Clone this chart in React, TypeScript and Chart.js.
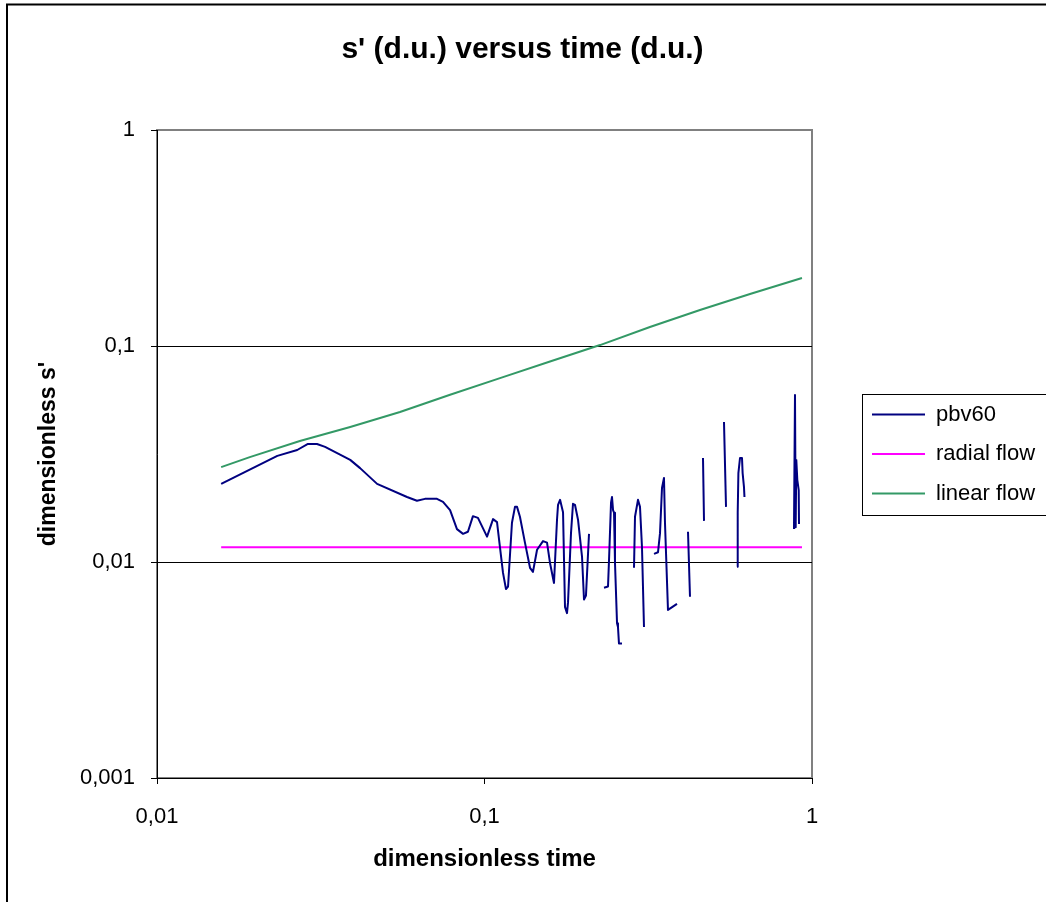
import React, { useEffect, useRef } from 'react';
import { Chart, registerables } from 'chart.js';

Chart.register(...registerables);

// ---------- data ----------
const seriesNames = ['pbv60', 'radial flow', 'linear flow'];
const xTickValues = [0.01, 0.1, 1];
const yTickValues = [0.001, 0.01, 0.1, 1];

// pbv60 (null = gap in the measured curve)
const pbv60Time = [
  0.0157, 0.0233, 0.0268, 0.0289, 0.0308, 0.0326, 0.0389, 0.0417, 0.0470, 0.0580,
  0.0622, 0.0658, 0.0716, 0.0747, 0.0785, 0.0824, 0.0860, 0.0890, 0.0922, 0.0955,
  0.1018, 0.1062, 0.1092, 0.1115, 0.1139, 0.1163, 0.1180, 0.1213, 0.1239, 0.1257,
  0.1283, 0.1329, 0.1377, 0.1406, 0.1447, 0.1509, 0.1552, 0.1585, 0.1630, 0.1665,
  0.1677, 0.1701, 0.1737, 0.1761, 0.1786, 0.1799, 0.1837, 0.1863, 0.1889, 0.1930,
  0.1985, 0.2013, 0.2041, 0.2085,
  0.220,
  0.2317, 0.2383, 0.2400, 0.2434, 0.2451, 0.2469, 0.2486, 0.2503, 0.2539, 0.2556, 0.2574, 0.2629,
  0.275,
  0.2861, 0.2881, 0.2942, 0.2984, 0.3026, 0.3069,
  0.318,
  0.3293, 0.3387, 0.3435, 0.3483, 0.3532, 0.3557, 0.3633, 0.3870,
  0.400,
  0.4182, 0.4241,
  0.445,
  0.4647, 0.4680,
  0.500,
  0.5386, 0.5463,
  0.570,
  0.5902, 0.5920, 0.5943, 0.5960, 0.6028, 0.6113, 0.6140, 0.6199, 0.6220,
  0.750,
  0.8810, 0.8873, 0.8916, 0.8955, 0.9018, 0.9108, 0.9127,
];
const pbv60S: (number | null)[] = [
  0.0230, 0.0310, 0.0330, 0.0352, 0.0352, 0.0341, 0.0297, 0.0272, 0.0230, 0.0200,
  0.0192, 0.0196, 0.0196, 0.0190, 0.0174, 0.0142, 0.0135, 0.0138, 0.0163, 0.0160,
  0.0131, 0.0158, 0.0153, 0.0117, 0.0089, 0.0075, 0.0077, 0.0152, 0.0180, 0.0180,
  0.0162, 0.0123, 0.0094, 0.0090, 0.0114, 0.0125, 0.0123, 0.0099, 0.0080, 0.0157,
  0.0184, 0.0194, 0.0170, 0.0062, 0.0058, 0.0065, 0.0136, 0.0186, 0.0184, 0.0157,
  0.0106, 0.0067, 0.0070, 0.0135,
  null,
  0.0076, 0.0077, 0.0102, 0.0188, 0.0200, 0.0174, 0.0169, 0.0099, 0.0052, 0.0050, 0.0042, 0.0042,
  null,
  0.0094, 0.0162, 0.0194, 0.0180, 0.0117, 0.0050,
  null,
  0.0109, 0.0111, 0.0136, 0.0220, 0.0245, 0.0152, 0.0060, 0.0064,
  null,
  0.0138, 0.0069,
  null,
  0.0303, 0.0155,
  null,
  0.0445, 0.0180,
  null,
  0.0095, 0.0141, 0.0169, 0.0258, 0.0303, 0.0303, 0.0258, 0.0222, 0.0200,
  null,
  0.0142, 0.0593, 0.0145, 0.0297, 0.0240, 0.0215, 0.0150,
];

const radialTime = [0.0157, 0.932];
const radialS = [0.0117, 0.0117];

const linearTime = [0.0157, 0.0192, 0.0273, 0.0389, 0.0552, 0.0785, 0.1115, 0.1585, 0.2253, 0.320, 0.455, 0.6467, 0.932];
const linearS = [0.0275, 0.0306, 0.0363, 0.0422, 0.0495, 0.0595, 0.0710, 0.0848, 0.101, 0.1225, 0.1468, 0.174, 0.2065];

// ---------- style / layout constants ----------
const FONT = "'Liberation Sans', Arial, Helvetica, sans-serif";
const W = 1046;
const H = 902;
const PLOT_LEFT = 157;
const PLOT_RIGHT = 812;
const PLOT_BOTTOM = 778;
const LEGEND_SIZE = 22;
const LEGEND_PAD = 17.5;
const LEGEND_LINE = 53;
const LEGEND_ITEM_X = 872;

const fmt = (v: number) => String(v).replace('.', ',');
const pts = (xs: number[], ys: (number | null)[]) => xs.map((x, i) => ({ x, y: ys[i] }));

export default function App() {
  const ref = useRef<HTMLCanvasElement>(null);

  useEffect(() => {
    const canvas = ref.current;
    if (!canvas) return;

    const mctx = document.createElement('canvas').getContext('2d')!;
    mctx.font = `${LEGEND_SIZE}px ${FONT}`;
    const maxText = Math.max(...seriesNames.map((n) => mctx.measureText(n).width));
    const legendW = LEGEND_PAD + LEGEND_LINE + LEGEND_SIZE / 2 + maxText + 10;
    const dummyW = LEGEND_ITEM_X - PLOT_RIGHT - LEGEND_PAD;
    const padRight = Math.max(0, W - PLOT_RIGHT - dummyW - legendW);

    const framePlugin = {
      id: 'frames',
      beforeDraw(chart: any) {
        const { ctx, chartArea: a } = chart;
        ctx.save();
        ctx.fillStyle = '#ffffff';
        ctx.fillRect(0, 0, chart.width, chart.height);
        ctx.strokeStyle = '#000000';
        ctx.lineWidth = 2;
        ctx.strokeRect(7, 4.5, chart.width + 20, chart.height + 20);
        ctx.strokeStyle = '#808080';
        ctx.lineWidth = 2;
        ctx.strokeRect(a.left, a.top, a.right - a.left, a.bottom - a.top);
        const lg = chart.legend;
        if (lg && lg.legendHitBoxes && lg.legendHitBoxes.length) {
          const hb = lg.legendHitBoxes;
          const first = hb[0];
          const last = hb[hb.length - 1];
          const x0 = Math.round(first.left - 10) + 0.5;
          const y0 = Math.round(first.top - 10) + 0.5;
          const y1 = Math.round(last.top + last.height + 10) + 0.5;
          ctx.strokeStyle = '#000000';
          ctx.lineWidth = 1;
          ctx.strokeRect(x0, y0, chart.width, y1 - y0);
        }
        ctx.restore();
      },
    };

    const chart = new Chart(canvas, {
      type: 'line',
      data: {
        datasets: [
          {
            label: seriesNames[0],
            data: pts(pbv60Time, pbv60S),
            borderColor: '#000080',
            backgroundColor: '#000080',
            borderWidth: 2,
            pointRadius: 0,
            tension: 0,
            spanGaps: false,
          },
          {
            label: seriesNames[1],
            data: pts(radialTime, radialS),
            borderColor: '#ff00ff',
            backgroundColor: '#ff00ff',
            borderWidth: 2,
            pointRadius: 0,
          },
          {
            label: seriesNames[2],
            data: pts(linearTime, linearS),
            borderColor: '#339966',
            backgroundColor: '#339966',
            borderWidth: 2,
            pointRadius: 0,
          },
        ],
      },
      options: {
        responsive: false,
        animation: false,
        devicePixelRatio: 1,
        layout: { padding: { left: 0, top: 0, bottom: 0, right: padRight } },
        elements: { line: { borderJoinStyle: 'round', borderCapStyle: 'butt' } },
        plugins: {
          title: {
            display: true,
            text: "s' (d.u.) versus time (d.u.)",
            color: '#000000',
            font: { family: FONT, size: 30, weight: 'bold', lineHeight: 1.2 },
            padding: { top: 32, bottom: 62 },
          },
          legend: {
            position: 'right',
            fullSize: false,
            align: 'center',
            labels: {
              usePointStyle: true,
              pointStyle: 'line',
              pointStyleWidth: LEGEND_LINE,
              padding: LEGEND_PAD,
              color: '#000000',
              font: { family: FONT, size: LEGEND_SIZE, lineHeight: 1.2 },
            },
          },
          tooltip: { enabled: false },
        },
        scales: {
          x: {
            type: 'logarithmic',
            position: 'bottom',
            min: 0.01,
            max: 1,
            afterBuildTicks: (s: any) => {
              s.ticks = xTickValues.map((v) => ({ value: v }));
            },
            afterFit: (s: any) => {
              s.height = H - PLOT_BOTTOM;
            },
            ticks: {
              callback: (v: any) => fmt(Number(v)),
              autoSkip: false,
              maxRotation: 0,
              padding: 20,
              color: '#000000',
              font: { family: FONT, size: 22 },
            },
            grid: {
              display: true,
              drawOnChartArea: false,
              drawTicks: true,
              tickLength: 6,
              tickColor: '#000000',
              tickWidth: 1,
            },
            border: { display: true, color: '#000000', width: 1 },
            title: {
              display: true,
              text: 'dimensionless time',
              color: '#000000',
              font: { family: FONT, size: 24, weight: 'bold', lineHeight: 1.2 },
              padding: { top: 0, bottom: 28.6 },
            },
          },
          y: {
            type: 'logarithmic',
            position: 'left',
            min: 0.001,
            max: 1,
            afterBuildTicks: (s: any) => {
              s.ticks = yTickValues.map((v) => ({ value: v }));
            },
            afterFit: (s: any) => {
              s.width = PLOT_LEFT;
            },
            ticks: {
              callback: (v: any) => fmt(Number(v)),
              autoSkip: false,
              padding: 16,
              color: '#000000',
              font: { family: FONT, size: 22 },
            },
            grid: {
              display: true,
              drawTicks: true,
              tickLength: 6,
              tickColor: '#000000',
              tickWidth: 1,
              lineWidth: 1,
              color: (c: any) =>
                c.tick && (c.tick.value === 0.1 || c.tick.value === 0.01) ? '#000000' : 'rgba(0,0,0,0)',
            },
            border: { display: true, color: '#000000', width: 1 },
            title: {
              display: true,
              text: "dimensionless s'",
              color: '#000000',
              font: { family: FONT, size: 23, weight: 'bold', lineHeight: 1.2 },
              padding: { top: 34.5, bottom: 0 },
            },
          },
          pad: {
            type: 'linear',
            position: 'right',
            display: false,
            afterFit: (s: any) => {
              s.width = dummyW;
            },
          },
        },
      } as any,
      plugins: [framePlugin],
    });

    return () => chart.destroy();
  }, []);

  return (
    <div
      style={{
        position: 'fixed',
        left: 0,
        top: 0,
        width: W,
        height: H,
        overflow: 'hidden',
        background: '#ffffff',
      }}
    >
      <canvas ref={ref} width={W} height={H} style={{ display: 'block', width: W, height: H }} />
    </div>
  );
}
